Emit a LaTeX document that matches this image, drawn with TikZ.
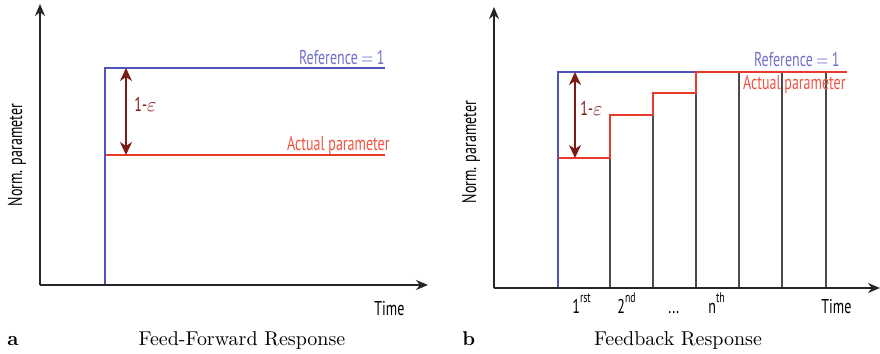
\documentclass[tikz,border=0pt]{standalone}
\usepackage{fontspec}
\newfontfamily\labfont[FakeStretch=0.7]{PT Sans}
\usetikzlibrary{arrows.meta}
\definecolor{refblue}{RGB}{82,82,188}
\definecolor{reftext}{RGB}{112,112,200}
\definecolor{actred}{RGB}{232,58,45}
\definecolor{acttext}{RGB}{238,82,66}
\definecolor{errred}{RGB}{122,28,20}
\definecolor{axisgray}{RGB}{38,38,38}
\definecolor{slotgray}{RGB}{75,75,75}
\newcommand{\wideeq}{\,\scalebox{0.8}[1]{$=$}\,}
\begin{document}
\begin{tikzpicture}[x=0.5pt,y=-0.5pt,
  lab/.style={font=\labfont\fontsize{10}{12}\selectfont, inner sep=0pt},
  axis/.style={draw=axisgray, line width=1pt, -{Stealth[length=6pt,width=5pt]}},
  refline/.style={draw=refblue, line width=0.8pt},
  actline/.style={draw=actred, line width=0.8pt},
  slot/.style={draw=slotgray, line width=0.7pt},
  gap/.style={draw=errred, line width=0.8pt,
    {Stealth[length=6.5pt,width=6pt,inset=2pt]}-{Stealth[length=6.5pt,width=6pt,inset=2pt]}},
  caption/.style={font=\rmfamily\fontsize{10}{12}\selectfont, inner sep=0pt},
]
\useasboundingbox (0,0) rectangle (880,354);

% ---------------- (a) feed-forward ----------------
\coordinate (aO) at (40,285);
\coordinate (aY) at (40,4);
\coordinate (aX) at (428,285);
\coordinate (aR0) at (105,285);
\coordinate (aR1) at (105,68);
\coordinate (aR2) at (385,68);
\coordinate (aA1) at (105,155);
\coordinate (aA2) at (385,155);
\coordinate (aE1) at (126,68);
\coordinate (aE2) at (126,155);

\draw[actline] (aA1) -- (aA2);
\draw[refline] (aR0) -- (aR1) -- (aR2);
\draw[gap] (aE1) -- (aE2);
\draw[axis] (aO) -- (aY);
\draw[axis] (aO) -- (aX);

\node[lab, text=reftext, anchor=base east] (aRefLab) at (385,64) {Reference\wideeq 1};
\node[lab, text=acttext, anchor=base east] (aActLab) at (390,150) {Actual parameter};
\node[lab, text=errred, anchor=base west] (aErrLab) at (134,111) {1-$\varepsilon$};
\node[lab, anchor=base west] (aTime) at (374,315) {Time};
\node[lab, rotate=90, anchor=base] (aYLab) at (22,155) {Norm. parameter};
\node[caption, anchor=base west] (aTag) at (7,345) {\bfseries a};
\node[caption, anchor=base] (aCap) at (242,345) {Feed-Forward Response};

% ---------------- (b) feedback ----------------
\coordinate (bO) at (494,288);
\coordinate (bY) at (494,7);
\coordinate (bX) at (880,288);
\coordinate (bR0) at (558,288);
\coordinate (bR1) at (558,72);
\coordinate (bR2) at (847,72);
\coordinate (bS0) at (558,158);
\coordinate (bS1) at (610,158);
\coordinate (bS2) at (610,115);
\coordinate (bS3) at (653,115);
\coordinate (bS4) at (653,93);
\coordinate (bS5) at (696,93);
\coordinate (bS6) at (696,72);
\coordinate (bS7) at (847,72);
\coordinate (bE1) at (575,72);
\coordinate (bE2) at (575,158);

% correction slots
\foreach \x/\t in {610/158, 653/115, 696/93, 739/72, 782/72, 826/72}
  \draw[slot] (\x,288) coordinate (bB\x) -- (\x,\t) coordinate (bT\x);

\draw[refline] (bR0) -- (bR1) -- (bR2);
\draw[actline] (bS0) -- (bS1) -- (bS2) -- (bS3) -- (bS4) -- (bS5) -- (bS6) -- (bS7);
\draw[gap] (bE1) -- (bE2);
\draw[axis] (bO) -- (bY);
\draw[axis] (bO) -- (bX);

\node[lab, text=reftext, anchor=base east] (bRefLab) at (840,66) {Reference\wideeq 1};
\node[lab, text=acttext, anchor=base east] (bActLab) at (846,89) {Actual parameter};
\node[lab, text=errred, anchor=base west] (bErrLab) at (580,115) {1-$\varepsilon$};
\node[lab, anchor=base west] (bTime) at (821,313) {Time};
\node[lab, rotate=90, anchor=base] (bYLab) at (476,152) {Norm. parameter};

\node[lab, anchor=base west] (bN1) at (572,313) {1\raisebox{1.1ex}{\fontsize{7}{8}\selectfont rst}};
\node[lab, anchor=base west] (bN2) at (617,313) {2\raisebox{1.1ex}{\fontsize{7}{8}\selectfont nd}};
\node[lab, anchor=base west] (bNd) at (668,313) {...};
\node[lab, anchor=base west] (bNn) at (708,313) {n\raisebox{1.1ex}{\fontsize{7}{8}\selectfont th}};

\node[caption, anchor=base west] (bTag) at (462,345) {\bfseries b};
\node[caption, anchor=base] (bCap) at (678,345) {Feedback Response};
\end{tikzpicture}
\end{document}
